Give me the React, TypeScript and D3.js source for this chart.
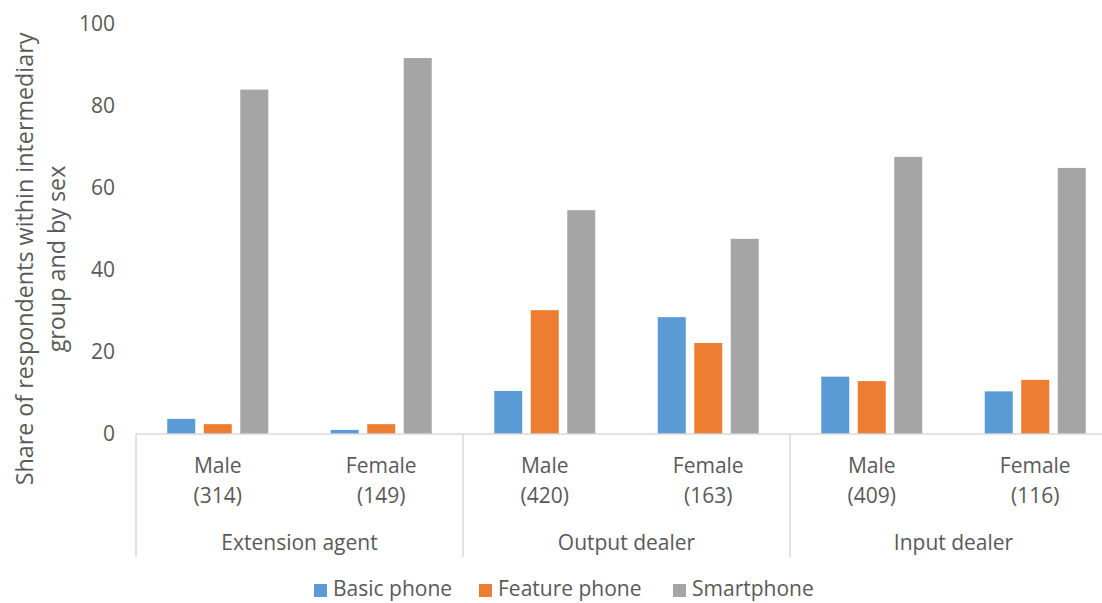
import React, { useRef, useEffect } from "react";
import * as d3 from "d3";

const groups = ["Extension agent", "Output dealer", "Input dealer"];
const sexes = ["Male", "Female"];
const counts = [314, 149, 420, 163, 409, 116];
const seriesNames = ["Basic phone", "Feature phone", "Smartphone"];
const basicPhone = [3.7, 1.0, 10.5, 28.5, 14.0, 10.4];
const featurePhone = [2.4, 2.4, 30.2, 22.2, 12.9, 13.2];
const smartphone = [84.0, 91.7, 54.6, 47.6, 67.6, 64.9];
const yTicks = [0, 20, 40, 60, 80, 100];
const colors = ["#5B9BD5", "#ED7D31", "#A5A5A5"];

const FONT = "'Open Sans', 'Noto Sans', sans-serif";
const TEXT = "#595959";

function App() {
  const svgRef = useRef<SVGSVGElement>(null);

  useEffect(() => {
    const svg = d3.select(svgRef.current);
    svg.selectAll("*").remove();

    const width = 1102;
    const height = 603;
    const margin = { left: 136, right: -15, top: 24, bottom: 169 };

    const cats = groups.flatMap((g, gi) =>
      sexes.map((s, si) => ({ key: `${gi}-${si}`, group: g, sex: s, idx: gi * 2 + si }))
    );

    const x = d3
      .scaleBand()
      .domain(cats.map((c) => c.key))
      .range([margin.left, width - margin.right]);

    const y = d3
      .scaleLinear()
      .domain([0, 100])
      .range([height - margin.bottom, margin.top]);

    const series = [basicPhone, featurePhone, smartphone];
    const barW = 28;
    const step = 36.5;

    const content = svg.append("g");
    series.forEach((vals, si) => {
      content
        .append("g")
        .selectAll("rect")
        .data(cats)
        .join("rect")
        .attr("x", (c) => x(c.key)! + x.bandwidth() / 2 + (si - 1) * step - barW / 2)
        .attr("width", barW)
        .attr("y", (c) => y(vals[c.idx]))
        .attr("height", (c) => y(0) - y(vals[c.idx]))
        .attr("fill", colors[si]);
    });

    // y axis labels
    svg
      .append("g")
      .attr("transform", `translate(${margin.left - 21},0)`)
      .call(d3.axisLeft(y).tickValues(yTicks).tickSize(0).tickPadding(0))
      .call((g) => g.select(".domain").remove())
      .call((g) =>
        g
          .selectAll("text")
          .attr("fill", TEXT)
          .attr("font-size", 21)
          .attr("font-family", FONT)
      );

    // x axis line + category dividers
    const axisY = y(0);
    const axis = svg.append("g").attr("stroke", "#D9D9D9").attr("stroke-width", 1.5);
    axis
      .append("line")
      .attr("x1", margin.left)
      .attr("x2", width)
      .attr("y1", axisY)
      .attr("y2", axisY);
    groups.forEach((g, gi) => {
      const gx = x(`${gi}-0`)!;
      axis
        .append("line")
        .attr("x1", gx)
        .attr("x2", gx)
        .attr("y1", axisY)
        .attr("y2", 557);
    });

    const labels = svg
      .append("g")
      .attr("fill", TEXT)
      .attr("font-family", FONT)
      .attr("font-size", 21)
      .attr("text-anchor", "middle");

    cats.forEach((c) => {
      const cx = x(c.key)! + x.bandwidth() / 2;
      labels.append("text").attr("x", cx).attr("y", 473).text(c.sex);
      labels.append("text").attr("x", cx).attr("y", 503).text(`(${counts[c.idx]})`);
    });
    groups.forEach((g, gi) => {
      const gx = x(`${gi}-0`)! + x.bandwidth();
      labels.append("text").attr("x", gx).attr("y", 550).text(g);
    });

    // y title
    const title = svg
      .append("text")
      .attr("transform", `translate(0,259) rotate(-90)`)
      .attr("text-anchor", "middle")
      .attr("fill", TEXT)
      .attr("font-family", FONT)
      .attr("font-size", 23.3);
    title.append("tspan").attr("x", 0).attr("y", 33).text("Share of respondents within intermediary");
    title.append("tspan").attr("x", 0).attr("y", 65).text("group and by sex");

    // legend
    const legendX = [314, 479, 673];
    const legend = svg.append("g");
    seriesNames.forEach((name, i) => {
      legend
        .append("rect")
        .attr("x", legendX[i])
        .attr("y", 584)
        .attr("width", 13)
        .attr("height", 13)
        .attr("fill", colors[i]);
      legend
        .append("text")
        .attr("x", legendX[i] + 19)
        .attr("y", 596)
        .attr("fill", TEXT)
        .attr("font-family", FONT)
        .attr("font-size", 21)
        .text(name);
    });
  }, []);

  return (
    <div style={{ position: "absolute", left: 0, top: 0 }}>
      <svg ref={svgRef} width={1102} height={603} style={{ display: "block" }}></svg>
    </div>
  );
}

export default App;
